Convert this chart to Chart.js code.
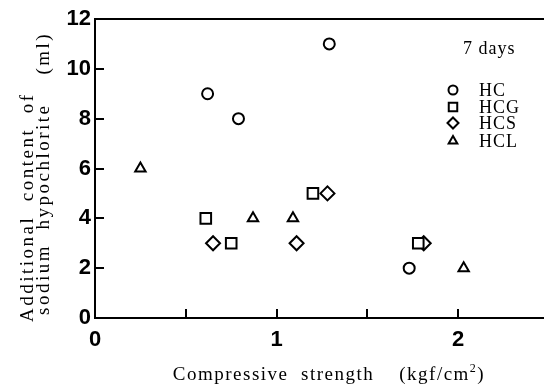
<!DOCTYPE html>
<html>
<head>
<meta charset="utf-8">
<script src="https://cdn.jsdelivr.net/npm/chart.js@4"></script>
<style>
  html, body { margin: 0; padding: 0; background: #fff; }
  #wrap { width: 544px; height: 389px; }
</style>
</head>
<body>
<div id="wrap"><canvas id="chart" width="544" height="389"></canvas></div>
<script>
// compressive strength (kgf/cm2) vs added sodium hypochlorite (ml), 7 days
const hcX  = [0.62, 0.79, 1.29, 1.73];
const hcY  = [9, 8, 11, 2];
const hcgX = [0.61, 0.75, 1.20, 1.78];
const hcgY = [4, 3, 5, 3];
const hcsX = [0.65, 1.11, 1.28, 1.81];
const hcsY = [3, 3, 5, 3];
const hclX = [0.25, 0.87, 1.09, 2.03];
const hclY = [6, 4, 4, 2];

const seriesNames = ['HC', 'HCG', 'HCS', 'HCL'];
const xTicks = [0, 0.5, 1, 1.5, 2];
const yTicks = [0, 2, 4, 6, 8, 10, 12];

const serif = "'Liberation Serif', 'DejaVu Serif', serif";
const sans = "'Liberation Sans', Arial, sans-serif";

function pts(xs, ys) {
    return xs.map((x, i) => ({ x: x, y: ys[i] }));
}

function series(label, xs, ys, style, r) {
    return {
        label: label,
        data: pts(xs, ys),
        pointStyle: style,
        pointRadius: r,
        pointHoverRadius: r,
        pointBorderWidth: 2,
        borderColor: '#000',
        backgroundColor: '#fff',
        showLine: false
    };
}

// inward tick marks, frame lines to the canvas edge, axis titles and the legend box
const decorations = {
    id: 'decorations',
    afterDraw(chart) {
        const ctx = chart.ctx;
        const area = chart.chartArea;
        const xs = chart.scales.x;
        const ys = chart.scales.y;
        ctx.save();
        ctx.strokeStyle = '#000';
        ctx.lineWidth = 2;

        ctx.beginPath();
        ctx.moveTo(area.left - 1, area.top);
        ctx.lineTo(chart.width, area.top);
        ctx.moveTo(area.right - 2, area.bottom);
        ctx.lineTo(chart.width, area.bottom);
        xTicks.filter(v => v > 0).forEach(v => {
            const px = Math.round(xs.getPixelForValue(v));
            ctx.moveTo(px, area.bottom);
            ctx.lineTo(px, area.bottom - 9);
        });
        yTicks.filter(v => v > 0 && v < 12).forEach(v => {
            const py = Math.round(ys.getPixelForValue(v));
            ctx.moveTo(area.left, py);
            ctx.lineTo(area.left + 9, py);
        });
        ctx.stroke();

        ctx.fillStyle = '#000';
        ctx.textBaseline = 'alphabetic';
        ctx.letterSpacing = '1.5px';

        // x axis title with superscript
        ctx.font = '19px ' + serif;
        const main = 'Compressive  strength    (kgf/cm';
        const wMain = ctx.measureText(main).width;
        ctx.font = '12px ' + serif;
        const wSup = ctx.measureText('2').width;
        ctx.font = '19px ' + serif;
        const wEnd = ctx.measureText(')').width;
        let tx = 329 - (wMain + wSup + wEnd) / 2;
        const ty = 380;
        ctx.textAlign = 'left';
        ctx.fillText(main, tx, ty);
        ctx.font = '12px ' + serif;
        ctx.fillText('2', tx + wMain, ty - 8);
        ctx.font = '19px ' + serif;
        ctx.fillText(')', tx + wMain + wSup, ty);

        // y axis title, two rotated lines
        ctx.letterSpacing = '2.5px';
        ctx.font = '19px ' + serif;
        ctx.save();
        ctx.translate(33, 322);
        ctx.rotate(-Math.PI / 2);
        ctx.fillText('Additional  content  of', 0, 0);
        ctx.restore();
        ctx.save();
        ctx.translate(49, 315);
        ctx.rotate(-Math.PI / 2);
        ctx.fillText('sodium  hypochlorite    (ml)', 0, 0);
        ctx.restore();

        // legend
        ctx.letterSpacing = '1px';
        ctx.font = '18px ' + serif;
        ctx.textBaseline = 'middle';
        ctx.fillText('7 days', 463, 49);
        const styles = ['circle', 'rect', 'rectRot', 'triangle'];
        const radii = [4.5, 6, 5.5, 5];
        const rows = [90, 107, 123, 141];
        seriesNames.forEach((name, i) => {
            ctx.fillStyle = '#fff';
            ctx.strokeStyle = '#000';
            ctx.lineWidth = 2;
            Chart.helpers.drawPoint(ctx, {
                pointStyle: styles[i],
                radius: radii[i],
                borderWidth: 2,
                rotation: 0
            }, 453, rows[i]);
            ctx.fillStyle = '#000';
            ctx.fillText(name, 479, rows[i] + 1);
        });
        ctx.restore();
    }
};

new Chart(document.getElementById('chart'), {
    type: 'scatter',
    data: {
        datasets: [
            series(seriesNames[0], hcX, hcY, 'circle', 5.5),
            series(seriesNames[1], hcgX, hcgY, 'rect', 7.5),
            series(seriesNames[2], hcsX, hcsY, 'rectRot', 7),
            series(seriesNames[3], hclX, hclY, 'triangle', 6)
        ]
    },
    options: {
        responsive: false,
        animation: false,
        devicePixelRatio: 1,
        layout: { padding: { top: 19, right: 0, bottom: 0, left: 0 } },
        plugins: {
            legend: { display: false },
            tooltip: { enabled: false }
        },
        scales: {
            x: {
                type: 'linear',
                min: 0,
                max: 2.42,
                afterFit: s => { s.height = 71; },
                afterBuildTicks: s => { s.ticks = xTicks.map(v => ({ value: v })); },
                grid: { display: false, drawTicks: false },
                border: { display: true, color: '#000', width: 2 },
                ticks: {
                    autoSkip: false,
                    maxRotation: 0,
                    padding: 9,
                    color: '#000',
                    font: { family: sans, size: 22, weight: 'bold' },
                    callback: v => (Number.isInteger(v) ? String(v) : '')
                }
            },
            y: {
                min: 0,
                max: 12,
                afterFit: s => { s.width = 95; },
                afterBuildTicks: s => { s.ticks = yTicks.map(v => ({ value: v })); },
                grid: { display: false, drawTicks: false },
                border: { display: true, color: '#000', width: 2 },
                ticks: {
                    padding: 4,
                    color: '#000',
                    font: { family: sans, size: 22, weight: 'bold' }
                }
            }
        }
    },
    plugins: [decorations]
});
</script>
</body>
</html>
